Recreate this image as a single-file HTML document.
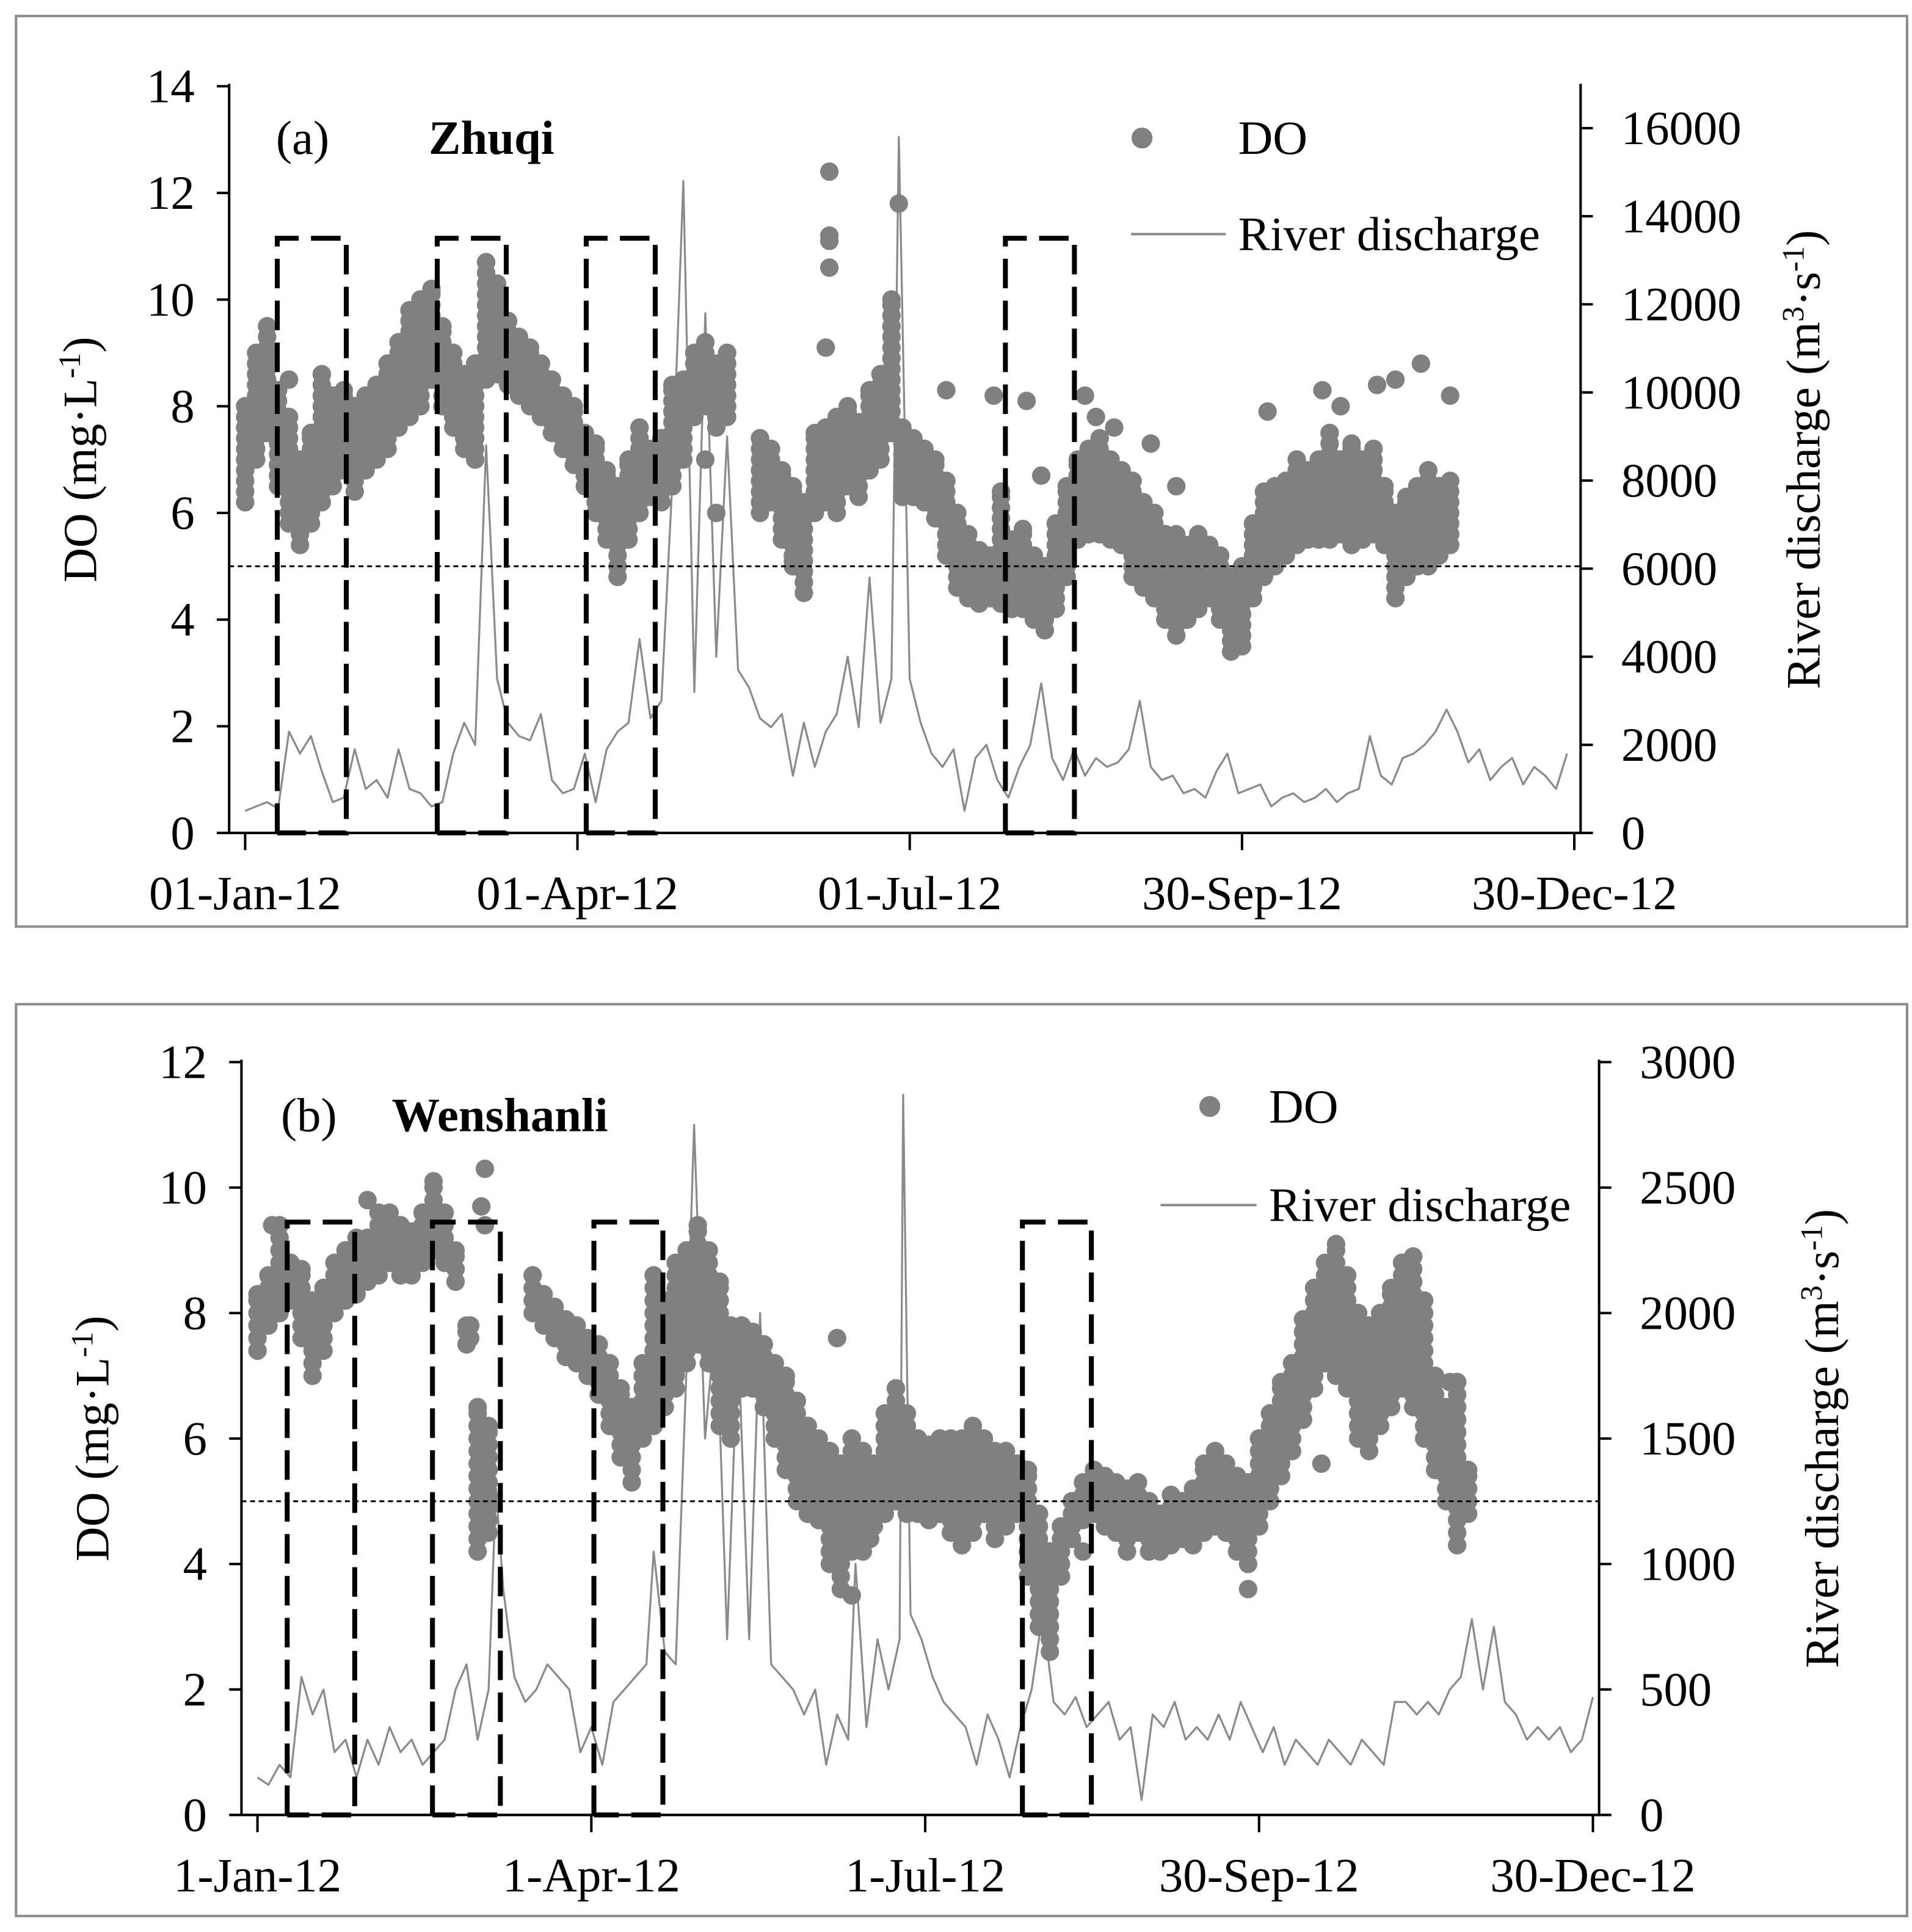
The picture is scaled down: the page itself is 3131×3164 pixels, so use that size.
<!DOCTYPE html>
<html><head><meta charset="utf-8"><style>
html,body{margin:0;padding:0;background:#fff;}
svg{display:block;font-family:"Liberation Serif",serif;}
</style></head><body>
<svg id="chart" width="3131" height="3164" viewBox="0 0 1552 1568" preserveAspectRatio="none" xmlns="http://www.w3.org/2000/svg">
<rect x="0" y="0" width="1552" height="1568" fill="#fff"/>
</svg>
<script>
// ---------- Panel (a) Zhuqi data ----------
const qDaysA=[0,3,6,9,12,15,18,21,24,27,30,33,36,39,42,45,48,51,54,57,60,63,66,69,72,75,78,81,84,87,90,93,96,99,102,105,108,111,114,117,120,123,126,129,132,135,138,141,144,147,150,153,156,159,162,165,168,171,174,177,179,182,185,188,191,194,197,200,203,206,209,212,215,218,221,224,227,230,233,236,239,242,245,248,251,254,257,260,263,266,269,272,275,278,281,284,287,290,293,296,299,302,305,308,311,314,317,320,323,326,329,332,335,338,341,344,347,350,353,356,359,362];
const qValsA=[500,600,700,550,2300,1800,2200,1400,700,800,1900,1000,1200,800,1900,1000,900,600,700,1800,2500,2000,8800,3500,2500,2200,2100,2700,1200,900,1000,1800,700,1900,2300,2500,4400,2600,3000,8000,14800,3200,11800,4000,9000,3700,3300,2600,2400,2700,1300,2500,1500,2300,2700,4000,2400,5800,2500,3500,15800,3500,2500,1800,1500,1900,500,1700,2000,1200,800,1500,2000,3400,1700,1200,1900,1300,1700,1500,1600,1900,3000,1500,1200,1300,900,1000,800,1400,1800,900,1000,1100,600,800,900,700,800,1000,700,900,1000,2200,1300,1100,1700,1800,2000,2300,2800,2300,1600,1900,1200,1500,1700,1100,1500,1300,1000,1800];
const doDaysA=[0,3,6,9,12,15,18,21,24,27,30,33,36,39,42,45,48,51,54,57,60,63,66,69,72,75,78,81,84,87,90,93,96,99,102,105,108,111,114,117,120,123,126,129,132,141,144,147,150,153,156,159,162,165,168,171,174,177,180,183,186,189,192,195,198,201,204,207,210,213,216,219,222,225,228,231,234,237,240,243,246,249,252,255,258,261,264,267,270,273,276,279,282,285,288,291,294,297,300,303,306,309,312,315,318,321,324,327,330];
const doMinA=[6.2,7.0,7.5,6.5,5.8,5.4,5.8,6.2,6.5,6.8,6.4,6.8,7.0,7.2,7.6,7.8,8.0,8.5,8.0,7.6,7.2,7.0,8.5,8.6,8.4,8.2,8.0,7.8,7.5,7.2,6.9,6.5,6.0,5.5,4.8,5.5,6.0,6.3,6.2,6.5,7.0,7.8,8.0,7.6,7.8,6.0,6.2,5.5,5.0,4.5,6.0,6.2,6.0,6.5,6.3,6.8,7.0,7.5,6.3,6.3,6.2,5.9,5.2,4.6,4.4,4.3,4.4,4.3,4.2,4.2,4.0,3.8,4.2,4.8,5.5,5.6,5.6,5.5,5.4,4.8,4.6,4.4,4.0,3.7,4.0,4.2,4.4,4.0,3.4,3.5,4.4,4.8,5.0,5.2,5.4,5.5,5.5,5.5,5.6,5.4,5.5,5.6,5.4,4.4,4.8,5.0,5.0,5.2,5.4];
const doMaxA=[8.0,9.0,9.5,8.3,7.8,7.0,7.5,8.6,8.2,8.3,8.0,8.2,8.4,8.8,9.2,9.8,10.0,10.2,9.5,9.0,8.6,8.8,10.7,10.3,9.6,9.3,9.1,8.8,8.5,8.2,8.0,7.5,7.3,6.8,6.5,7.0,7.6,7.2,7.4,8.4,8.5,9.0,9.2,8.8,9.0,7.4,7.2,6.8,6.5,6.2,7.5,7.6,7.8,8.0,7.7,8.3,8.6,10.0,7.6,7.4,7.2,7.0,6.6,6.0,5.6,5.3,5.2,6.4,5.5,5.7,5.2,5.0,5.8,6.5,7.0,7.2,7.4,7.0,6.8,6.6,6.2,6.0,5.6,5.6,5.4,5.6,5.4,5.2,4.8,5.0,5.8,6.4,6.5,6.6,7.0,6.8,7.0,7.5,7.0,7.3,7.0,7.2,6.5,6.0,6.3,6.5,6.8,6.5,6.6];
const outDaysA=[160,160,160,160,159,179,205,214,230,233,238,248,280,295,300,310,315,322,330,255,218,192,150,129,126,12];
const outValsA=[11.2,12.4,10.6,11.1,9.1,11.8,8.2,8.1,8.2,7.8,7.6,7.3,7.9,8.3,8.0,8.4,8.5,8.8,8.2,6.5,6.7,8.3,5.1,6.0,7.0,8.5];
const boxStartA=[8.8,52.6,93.4,208.2];
const boxEndA=[27.7,71.5,112.3,227.1];
const yTicksLeftA=[0,2,4,6,8,10,12,14];
const yTicksRightA=[0,2000,4000,6000,8000,10000,12000,14000,16000];
const xTickDays=[0,91,182,273,364];
const xTickLabelsA=["01-Jan-12","01-Apr-12","01-Jul-12","30-Sep-12","30-Dec-12"];

// ---------- Panel (b) Wenshanli data ----------
const qDaysB=[0,3,6,9,12,15,18,21,24,27,30,33,36,39,42,45,48,51,54,57,60,63,65,67,70,73,76,79,82,85,88,91,94,97,100,103,106,108,111,114,117,119,122,125,128,131,134,137,140,143,146,149,152,155,158,161,163,166,169,172,175,176,178,181,184,187,190,193,196,199,202,205,208,211,214,217,220,223,226,229,232,235,238,241,244,247,250,253,256,259,262,265,268,271,274,277,280,283,286,289,292,295,298,301,304,307,310,313,316,319,322,325,328,331,334,337,340,343,346,349,352,355,358,361,364];
const qValsB=[150,120,200,150,550,400,500,250,300,150,300,200,350,250,300,200,250,300,500,600,300,500,1300,900,550,450,500,600,550,500,250,350,200,450,500,550,600,1050,650,600,1800,2750,1500,2000,700,1900,700,2000,600,550,500,400,500,200,400,300,1000,350,700,500,700,2870,800,700,550,450,400,350,200,400,300,150,350,500,800,450,400,470,350,400,450,300,350,60,400,350,450,300,350,300,400,300,450,350,250,350,200,300,250,200,300,250,200,300,250,200,450,450,400,450,400,500,550,780,500,750,450,400,300,350,300,350,250,300,470];
const doDaysB=[0,3,6,9,12,15,18,21,24,27,30,33,36,39,42,45,48,51,54,57,60,63,75,78,81,84,87,90,93,96,99,102,105,108,111,114,117,120,123,126,129,132,135,138,141,144,147,150,153,156,159,162,165,168,171,174,177,180,183,186,189,192,195,198,201,204,207,210,213,216,219,222,225,228,231,234,237,240,243,246,249,252,255,258,261,264,267,270,273,276,279,282,285,288,291,294,297,300,303,306,309,312,315,318,321,324,327,330];
const doMinB=[7.4,7.8,8.0,8.2,7.6,7.0,7.4,8.0,8.2,8.3,8.5,8.6,8.8,8.6,8.6,8.8,9.0,8.8,8.5,7.5,4.2,4.5,8.0,7.8,7.6,7.3,7.2,7.0,6.7,6.2,5.7,5.3,6.0,6.2,6.5,6.8,7.2,7.5,7.2,6.2,6.0,6.8,6.8,6.5,6.0,5.5,5.0,4.8,4.7,4.0,3.6,4.2,4.2,4.6,4.8,5.0,4.8,4.8,4.7,4.8,4.5,4.3,4.5,4.8,4.4,4.6,4.8,3.8,3.0,2.6,3.8,4.4,4.7,4.8,4.6,4.5,4.2,4.5,4.2,4.2,4.3,4.4,4.3,4.5,4.6,4.5,4.2,4.0,4.6,5.0,5.4,5.8,6.3,6.8,7.2,7.0,6.8,6.0,5.8,6.2,6.5,6.8,6.5,6.0,5.5,5.0,4.3,4.8];
const doMaxB=[8.3,8.6,9.4,8.8,8.7,8.2,8.4,8.8,9.0,9.2,9.2,9.6,9.6,9.4,9.3,9.6,10.1,9.6,9.0,7.8,6.5,6.2,8.6,8.3,8.1,7.9,7.8,7.6,7.5,7.2,6.8,6.5,7.2,8.6,8.2,8.8,9.0,9.4,9.0,8.5,7.8,7.8,7.7,7.5,7.2,7.0,6.6,6.2,6.0,5.8,5.6,6.0,5.8,5.6,6.4,6.8,6.4,6.0,5.9,6.0,6.0,6.0,6.2,6.0,5.8,5.8,5.6,5.5,4.8,4.2,4.6,5.0,5.3,5.5,5.4,5.3,5.2,5.3,5.0,4.8,5.1,5.0,5.2,5.6,5.8,5.6,5.4,5.3,6.0,6.4,6.9,7.2,7.9,8.4,8.8,9.1,8.6,8.0,7.8,8.0,8.4,8.8,8.9,8.2,7.0,6.5,6.9,5.5];
const outDaysB=[61,62,62,58,58,30,4,158,162,167,270,290,325,225,240];
const outValsB=[9.7,10.3,9.4,7.6,7.8,9.8,9.4,7.6,3.5,4.4,3.6,5.6,6.9,4.2,4.6];
const boxStartB=[8.1,47.7,91.7,208.5];
const boxEndB=[26.5,66.2,110.5,227.3];
const yTicksLeftB=[0,2,4,6,8,10,12];
const yTicksRightB=[0,500,1000,1500,2000,2500,3000];
const xTickLabelsB=["1-Jan-12","1-Apr-12","1-Jul-12","30-Sep-12","30-Dec-12"];

const NS="http://www.w3.org/2000/svg";
const svg=document.getElementById('chart');
function mk(tag,attrs,parent){const e=document.createElementNS(NS,tag);for(const k in attrs)e.setAttribute(k,attrs[k]);(parent||svg).appendChild(e);return e;}
const FS=39;

function drawPanel(p){
  const g=mk('g',{});
  
  
  const fr=mk('rect',{x:p.frame[0],y:p.frame[1],width:p.frame[2],height:p.frame[3],fill:'none',stroke:'#8c8c8c','stroke-width':2},g);
  
  
  const X=d=>p.x0+d*p.xs;
  const YL=v=>p.bottom-(v/p.lmax)*(p.bottom-p.ltop);
  const YR=v=>p.bottom-(v/p.rmax)*(p.bottom-p.ltop);
  let dstr='';
  p.qDays.forEach((d,i)=>{dstr+=(i?'L':'M')+X(d).toFixed(1)+','+YR(p.qVals[i]).toFixed(1);});
  const ln=mk('path',{d:dstr,fill:'none',stroke:'#8a8a8a','stroke-width':1.6,'stroke-linejoin':'round'},g);
  
  
  const dg=mk('g',{fill:'#808080'},g);
  
  
  p.doDays.forEach((d,i)=>{
    const lo=p.doMin[i],hi=p.doMax[i];
    for(let v=lo;v<=hi+0.001;v+=0.2){
      const c=mk('circle',{cx:X(d).toFixed(1),cy:YL(v).toFixed(1),r:p.r},dg);
      
      
    }
    const c=mk('circle',{cx:X(d).toFixed(1),cy:YL(hi).toFixed(1),r:p.r},dg);
    
    
  });
  p.outDays.forEach((d,i)=>{
    const c=mk('circle',{cx:X(d).toFixed(1),cy:YL(p.outVals[i]).toFixed(1),r:p.r},dg);
    
    
  });
  const th=mk('line',{x1:p.left,x2:p.right,y1:YL(5),y2:YL(5),stroke:'#000','stroke-width':1.5,'stroke-dasharray':'4,3'},g);
  
  
  p.boxStart.forEach((s,i)=>{
    const x1=X(s),x2=X(p.boxEnd[i]),yt=YL(p.boxTop);
    const b=mk('path',{d:`M${x1},${p.bottom}V${yt}H${x2}V${p.bottom}H${x1}`,fill:'none',stroke:'#000','stroke-width':4,'stroke-dasharray':'24,10'},g);
    
    
  });
  const ax=mk('path',{d:`M${p.left},${p.ltop-2}V${p.bottom}H${p.right}V${p.ltop-2}`,fill:'none',stroke:'#000','stroke-width':2},g);
  
  
  p.yL.forEach(v=>{
    mk('line',{x1:p.left-10,x2:p.left,y1:YL(v),y2:YL(v),stroke:'#000','stroke-width':2},g);
    const t=mk('text',{x:p.left-28,y:YL(v)+13,'text-anchor':'end','font-size':FS},g);
    t.textContent=v;
    
    
  });
  p.yR.forEach(v=>{
    mk('line',{x1:p.right,x2:p.right+10,y1:YR(v),y2:YR(v),stroke:'#000','stroke-width':2},g);
    const t=mk('text',{x:p.right+33,y:YR(v)+13,'text-anchor':'start','font-size':FS},g);
    t.textContent=v;
    
    
  });
  xTickDays.forEach((d,i)=>{
    mk('line',{x1:X(d),x2:X(d),y1:p.bottom,y2:p.bottom+14,stroke:'#000','stroke-width':2},g);
    const t=mk('text',{x:X(d),y:p.bottom+62,'text-anchor':'middle','font-size':FS},g);
    t.textContent=p.xLabels[i];
    
    
  });
  const yl=mk('text',{transform:`translate(${p.left-108},${(p.ltop+p.bottom)/2}) rotate(-90)`,'text-anchor':'middle','font-size':FS},g);
  yl.innerHTML='DO (mg·L<tspan dy="-13" font-size="25">-1</tspan><tspan dy="13">)</tspan>';
  
  
  const yr=mk('text',{transform:`translate(${p.right+194},${(p.ltop+p.bottom)/2}) rotate(-90)`,'text-anchor':'middle','font-size':FS},g);
  yr.innerHTML='River discharge (m<tspan dy="-13" font-size="25">3</tspan><tspan dy="13">·s</tspan><tspan dy="-13" font-size="25">-1</tspan><tspan dy="13">)</tspan>';
  
  
  const lab=mk('text',{x:p.labX,y:p.labY,'font-size':FS},g);
  lab.textContent=p.letter;
  
  
  const st=mk('text',{x:p.siteX,y:p.labY,'font-size':FS,'font-weight':'bold'},g);
  st.textContent=p.site;
  
  
  const lg=mk('g',{},g);
  
  
  const ld=mk('circle',{cx:p.legDotX,cy:p.legDotY,r:p.r+1,fill:'#808080'},lg);
  
  
  const lt=mk('text',{x:p.legTextX,y:p.legDotY+13,'font-size':FS},lg);
  lt.textContent='DO';
  
  
  const ll=mk('line',{x1:p.legLineX1,x2:p.legLineX2,y1:p.legLineY,y2:p.legLineY,stroke:'#8a8a8a','stroke-width':2},lg);
  
  
  const lt2=mk('text',{x:p.legTextX,y:p.legLineY+13,'font-size':FS},lg);
  lt2.textContent='River discharge';
  
  
}

drawPanel({name:'panel-a-zhuqi',frame:[13,13,1535,739],left:186,right:1283,ltop:70,bottom:676,lmax:14,rmax:(676-70)/0.03575,
  x0:199,xs:2.964,r:7.5,qDays:qDaysA,qVals:qValsA,doDays:doDaysA,doMin:doMinA,doMax:doMaxA,outDays:outDaysA,outVals:outValsA,
  boxStart:boxStartA,boxEnd:boxEndA,boxTop:11.15,yL:yTicksLeftA,yR:yTicksRightA,xLabels:xTickLabelsA,
  letter:'(a)',site:'Zhuqi',labX:224,siteX:348,labY:125,legDotX:927,legDotY:112,legTextX:1005,legLineX1:918,legLineX2:995,legLineY:190});
drawPanel({name:'panel-b-wenshanli',frame:[13,815,1535,740],left:196,right:1298,ltop:862,bottom:1473,lmax:12,rmax:3000,
  x0:209,xs:2.978,r:7.5,qDays:qDaysB,qVals:qValsB,doDays:doDaysB,doMin:doMinB,doMax:doMaxB,outDays:outDaysB,outVals:outValsB,
  boxStart:boxStartB,boxEnd:boxEndB,boxTop:9.45,yL:yTicksLeftB,yR:yTicksRightB,xLabels:xTickLabelsB,
  letter:'(b)',site:'Wenshanli',labX:228,siteX:318,labY:918,legDotX:982,legDotY:898,legTextX:1030,legLineX1:942,legLineX2:1020,legLineY:978});
</script>
</body></html>
